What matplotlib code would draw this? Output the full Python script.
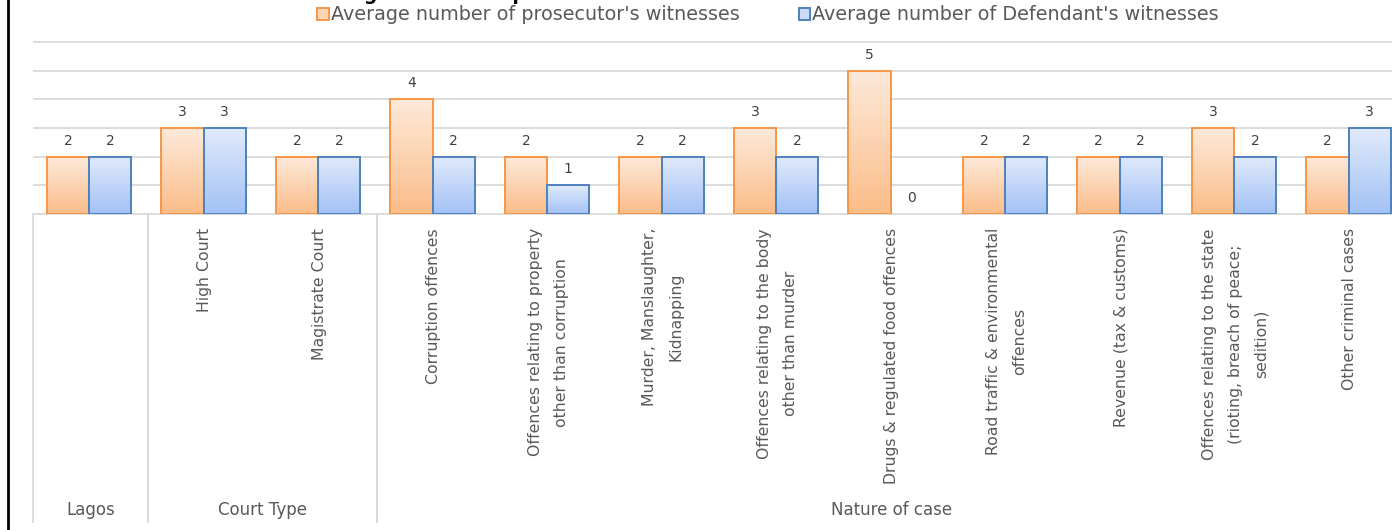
import numpy as np
import matplotlib
matplotlib.use("Agg")
import matplotlib.pyplot as plt
from matplotlib.colors import LinearSegmentedColormap
from matplotlib.patches import Patch
from matplotlib.lines import Line2D

# Datos
categories = ["", "High Court", "Magistrate Court", "Corruption offences",
              "Offences relating to property\nother than corruption",
              "Murder, Manslaughter,\nKidnapping",
              "Offences relating to the body\nother than murder",
              "Drugs & regulated food offences",
              "Road traffic & environmental\noffences",
              "Revenue (tax & customs)",
              "Offences relating to the state\n(rioting, breach of peace;\nsedition)",
              "Other criminal cases"]
prosecutor = [2, 3, 2, 4, 2, 2, 3, 5, 2, 2, 3, 2]
defendant = [2, 3, 2, 2, 1, 2, 2, 0, 2, 2, 2, 3]
groups = ["Lagos", "Court Type", "Nature of case"]
group_bounds = [(0, 1), (1, 3), (3, 12)]
series_names = ["Average number of prosecutor's witnesses",
                "Average number of Defendant's witnesses"]
title = "Average number of prosecutor's and defendant's witnesses"

W, H = 1392, 530
fig = plt.figure(figsize=(W / 100, H / 100), dpi=100)
# el área del gráfico sigue más allá del borde derecho (recortada)
ax = fig.add_axes([33 / W, (H - 214) / H, 1374 / W, 172 / H])


def gradient_bar(x, h, w, top, bottom, edge):
    if h <= 0:
        return
    bar = ax.bar(x, h, w, facecolor="none", edgecolor=edge, linewidth=1.4, zorder=3)[0]
    cmap = LinearSegmentedColormap.from_list("g", [bottom, top])
    img = ax.imshow(np.linspace(0, 1, 64).reshape(-1, 1), cmap=cmap, origin="lower",
                    extent=[x - w / 2, x + w / 2, 0, h], aspect="auto", zorder=2,
                    interpolation="bilinear")
    img.set_clip_path(bar)


bw = 0.37
orange_top, orange_bot, orange_edge = "#fde9da", "#fbbd89", "#f79646"
blue_top, blue_bot, blue_edge = "#e0eafb", "#a3c2f6", "#4f81bd"

for i in range(len(categories)):
    xc = i + 0.49
    gradient_bar(xc - bw / 2, prosecutor[i], bw, orange_top, orange_bot, orange_edge)
    gradient_bar(xc + bw / 2, defendant[i], bw, blue_top, blue_bot, blue_edge)
    for xv, v in [(xc - bw / 2, prosecutor[i]), (xc + bw / 2, defendant[i])]:
        ax.annotate(str(v), (xv, v), xytext=(0, 11.5), textcoords="offset points",
                    ha="center", va="center", fontsize=10, color="#404040")

ax.set_xlim(0, len(categories))
ax.set_ylim(0, 6)
ax.set_xticks([])
ax.set_yticks([])
# líneas de cuadrícula
ax.hlines(range(7), 0, len(categories), color="#d9d9d9", linewidth=1.3, zorder=1,
          clip_on=False)
for s in ax.spines.values():
    s.set_visible(False)

# Etiquetas de categorías (rotadas)
trans = ax.get_xaxis_transform()
for i, lab in enumerate(categories):
    if lab:
        ax.text(i + 0.5, -14 / 172, lab, transform=trans, rotation=90, ha="center",
                va="top", multialignment="center", fontsize=11.3,
                color="#595959", linespacing=1.9)

# Separadores y grupos
for a, b in group_bounds:
    for xv in (a, b):
        ax.plot([xv, xv], [0, -308 / 172], transform=trans, color="#d9d9d9",
                linewidth=1.3, clip_on=False)
for name, (a, b) in zip(groups, group_bounds):
    ax.text((a + b) / 2, -296 / 172, name, transform=trans, ha="center", va="center",
            fontsize=12, color="#595959")

# Leyenda
handles = [Patch(facecolor="#fdd6b6", edgecolor=orange_edge, linewidth=1.4),
           Patch(facecolor="#c9dbf8", edgecolor=blue_edge, linewidth=1.4)]
fig.legend(handles, series_names, loc="center", bbox_to_anchor=(768 / W, 1 - 15 / H),
           ncol=2, frameon=False, fontsize=13.8, handlelength=0.6, handleheight=0.6,
           handletextpad=0.1, columnspacing=3.1, labelcolor="#595959",
           borderaxespad=0, borderpad=0)

# Título (casi fuera del recuadro, como en la captura)
fig.text(618 / W, 1 - 0.5 / H, title, ha="center", va="baseline", fontsize=13.5,
         fontweight="bold", color="black")

# Borde izquierdo
fig.add_artist(Line2D([8 / W, 8 / W], [0, 1], color="black", linewidth=2))

fig.savefig("out.png", dpi=100)
